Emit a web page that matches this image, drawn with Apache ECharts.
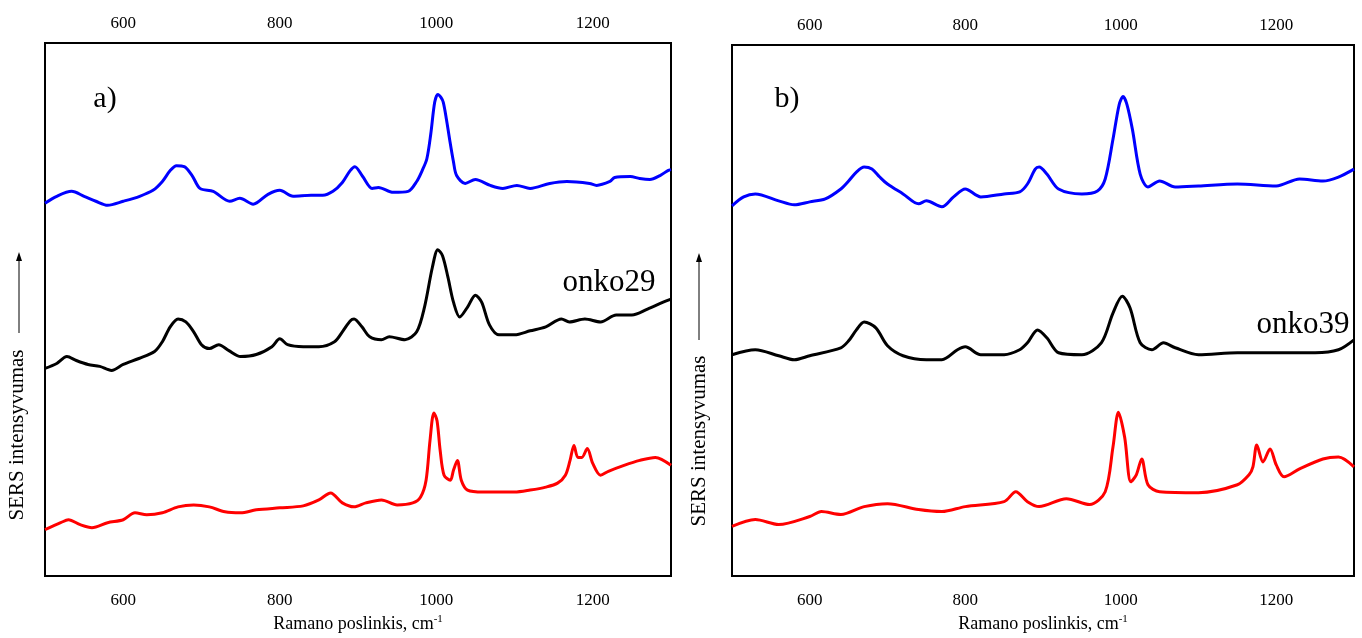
<!DOCTYPE html>
<html>
<head>
<meta charset="utf-8">
<script src="https://cdn.jsdelivr.net/npm/echarts@6/dist/echarts.min.js"></script>
<style>html,body{margin:0;padding:0;background:#fff}#c{width:1362px;height:638px}</style>
</head>
<body>
<div id="c"></div>
<script>
// Raman shift (cm-1) and intensity (a.u.) pairs
const blueA = [[500,377],[515,384],[534,389],[550,384],[565,379],[580,375],[600,379],[621,384],[638,390],[650,399],[660,410],[668,415],[678,414],[688,405],[698,392],[715,389],[736,379],[749,382],[766,376],[785,386],[800,390],[817,384],[840,385],[855,385],[868,389],[880,398],[890,410],[896,414],[906,404],[918,392],[926,393],[945,388],[964,389],[975,399],[982,410],[988,422],[993,447],[998,479],[1002,487],[1006,484],[1009,479],[1013,462],[1017,442],[1022,419],[1026,405],[1037,397],[1050,401],[1069,395],[1085,392],[1103,395],[1120,392],[1145,397],[1167,399],[1196,397],[1205,395],[1222,399],[1228,403],[1248,404],[1260,402],[1273,401],[1286,405],[1296,410],[1300,411]];
const blackA = [[500,210],[515,215],[528,222],[540,218],[555,214],[570,212],[585,208],[600,214],[620,220],[640,227],[650,237],[660,252],[670,260],[680,257],[690,247],[700,234],[710,230],[722,234],[735,228],[750,222],[770,224],[790,232],[800,240],[810,234],[830,232],[850,232],[870,237],[880,247],[890,258],[895,260],[905,252],[915,242],[930,239],[940,242],[960,239],[975,247],[985,272],[995,312],[1002,330],[1008,324],[1015,302],[1022,277],[1030,262],[1040,272],[1050,284],[1058,277],[1068,254],[1080,244],[1100,244],[1120,248],[1140,252],[1160,260],[1170,257],[1190,260],[1210,257],[1230,264],[1250,264],[1270,270],[1290,277],[1300,280]];
const redA = [[500,47],[520,54],[530,57],[545,52],[560,49],[580,54],[600,57],[615,64],[630,62],[650,64],[670,70],[690,72],[710,70],[730,65],[750,64],[770,67],[800,69],[830,71],[850,77],[865,84],[880,74],[895,70],[910,74],[930,77],[950,72],[970,74],[980,80],[987,97],[992,137],[997,165],[1001,157],[1005,127],[1010,102],[1018,97],[1022,107],[1027,117],[1032,97],[1040,87],[1060,85],[1080,85],[1100,85],[1120,87],[1140,90],[1155,94],[1165,102],[1171,117],[1176,132],[1181,120],[1186,120],[1193,129],[1200,114],[1210,102],[1220,106],[1240,112],[1260,117],[1280,120],[1300,112]];
const blueB = [[500,373],[515,382],[530,385],[560,378],[580,374],[600,377],[620,380],[640,390],[650,398],[660,407],[670,412],[680,410],[690,402],[700,395],[720,385],[740,375],[750,378],[770,372],[785,382],[800,390],[820,382],[850,385],[870,387],[880,395],[890,410],[895,412],[905,405],[920,390],[950,385],[970,388],[980,400],[990,440],[998,475],[1003,483],[1008,475],[1015,450],[1025,405],[1035,392],[1050,398],[1070,392],[1100,393],[1150,395],[1200,393],[1230,400],[1260,398],[1280,402],[1300,410]];
const blackB = [[500,223],[530,228],[560,222],[580,218],[600,222],[640,230],[650,237],[660,248],[670,256],[685,250],[700,232],[720,222],[750,218],[770,218],[790,228],[800,231],[820,223],[850,223],[870,228],[880,235],[893,248],[905,240],[920,225],[950,223],[975,235],[990,265],[1002,282],[1012,270],[1025,235],[1040,228],[1055,235],[1070,230],[1100,223],[1150,225],[1200,225],[1250,225],[1280,228],[1300,238]];
const redB = [[500,50],[530,57],[560,52],[600,60],[615,65],[640,62],[670,70],[700,73],[740,67],[770,65],[800,70],[850,75],[865,85],[880,75],[895,70],[930,78],[960,72],[980,85],[990,130],[997,165],[1005,140],[1013,95],[1020,102],[1027,118],[1035,92],[1050,85],[1100,84],[1150,92],[1165,102],[1170,110],[1175,132],[1183,115],[1192,128],[1200,112],[1210,100],[1230,108],[1260,118],[1280,120],[1300,110]];
const xTicks = [600, 800, 1000, 1200];
const sampleLabels = ['onko29', 'onko39'];
const panelLabels = ['a)', 'b)'];
const xTitle = 'Ramano poslinkis, cm';
const yTitle = 'SERS intensyvumas';

const FONT = '"Liberation Serif","Times New Roman",serif';
const chart = echarts.init(document.getElementById('c'), null, {renderer: 'canvas'});

function xAx(grid, pos, named) {
  return {
    type: 'value', gridIndex: grid, position: pos, min: 500, max: 1300, interval: 100,
    axisLine: {show: false}, axisTick: {show: false}, splitLine: {show: false},
    axisLabel: {
      color: '#000', fontFamily: FONT, fontSize: 17, margin: pos === 'top' ? 11 : 16,
      formatter: v => xTicks.indexOf(v) >= 0 ? String(v) : ''
    },
    name: named ? xTitle + '{s|-1}' : '', nameLocation: 'middle', nameGap: 36,
    nameTextStyle: {color: '#000', fontFamily: FONT, fontSize: 18,
      rich: {s: {fontFamily: FONT, fontSize: 11, verticalAlign: 'top', padding: [0,0,9,0], color:'#000'}}}
  };
}
function yAx(grid, max) {
  return {type: 'value', gridIndex: grid, min: 0, max: max,
    axisLine: {show: false}, axisTick: {show: false}, splitLine: {show: false}, axisLabel: {show: false}};
}
function ser(data, x, y, color) {
  return {type: 'line', data: data, xAxisIndex: x, yAxisIndex: y, showSymbol: false, smooth: 0.3,
    lineStyle: {color: color, width: 3}, itemStyle: {color: color}, silent: true, animation: false};
}
function txt(x, y, t, size, rot) {
  return {type: 'text', x: x, y: y, rotation: rot || 0,
    style: {text: t, font: size + 'px ' + FONT, fill: '#000', align: 'center', verticalAlign: 'middle'}};
}
function arrow(x, y1, y2) {
  return [
    {type: 'line', shape: {x1: x, y1: y1, x2: x, y2: y2 + 8}, style: {stroke: '#000', lineWidth: 1}},
    {type: 'polygon', shape: {points: [[x - 3, y2 + 9], [x + 3, y2 + 9], [x, y2]]}, style: {fill: '#000'}}
  ];
}

chart.setOption({
  backgroundColor: '#fff',
  animation: false,
  grid: [
    {left: 45, top: 43, width: 626, height: 539, show: true, borderColor: '#000', borderWidth: 2, backgroundColor: 'transparent'},
    {left: 732, top: 45, width: 622, height: 535, show: true, borderColor: '#000', borderWidth: 2, backgroundColor: 'transparent'}
  ],
  xAxis: [xAx(0, 'bottom', true), xAx(0, 'top', false), xAx(1, 'bottom', true), xAx(1, 'top', false)],
  yAxis: [yAx(0, 539), yAx(1, 535)],
  series: [
    ser(blueA, 0, 0, '#0000ff'), ser(blackA, 0, 0, '#000000'), ser(redA, 0, 0, '#ff0000'),
    ser(blueB, 2, 1, '#0000ff'), ser(blackB, 2, 1, '#000000'), ser(redB, 2, 1, '#ff0000')
  ],
  graphic: [
    txt(105, 99, panelLabels[0], 30), txt(787, 99, panelLabels[1], 30),
    txt(609, 283, sampleLabels[0], 31), txt(1303, 325, sampleLabels[1], 31),
    txt(17, 435, yTitle, 21, Math.PI / 2), txt(699, 441, yTitle, 21, Math.PI / 2)
  ].concat(arrow(19, 333, 252)).concat(arrow(699, 340, 253))
});
</script>
</body>
</html>
